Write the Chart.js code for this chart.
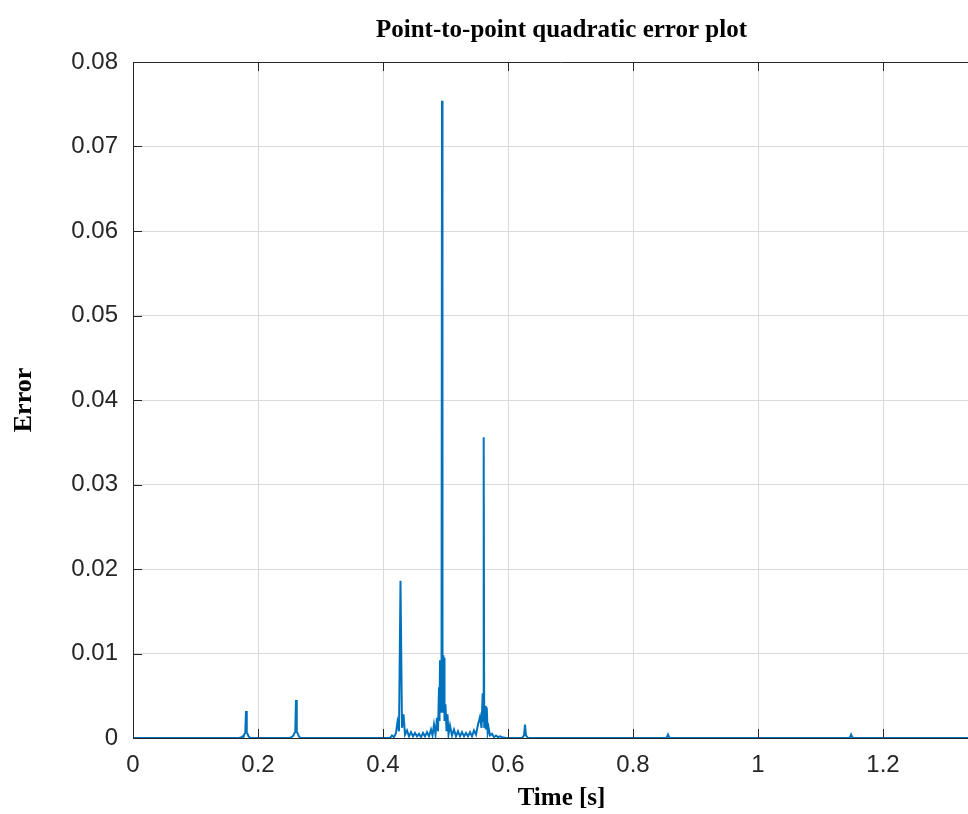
<!DOCTYPE html>
<html>
<head>
<meta charset="utf-8">
<title>Point-to-point quadratic error plot</title>
<script src="https://cdn.jsdelivr.net/npm/chart.js@4.4.1/dist/chart.umd.min.js"></script>
<style>
  html, body { margin: 0; padding: 0; background: #fff; overflow: hidden; width: 968px; height: 814px; }
  canvas { display: block; }
</style>
</head>
<body>
<!-- the axes run a bit past the right edge of the window, as in the original figure -->
<canvas id="errChart" width="990" height="814"></canvas>
<script>
// sample times [s]
const timeValues = [
  0, 0.170, 0.1736, 0.1752, 0.1768, 0.1784, 0.1796, 0.1808, 0.182, 0.1832, 0.1848, 0.1864, 0.188,
  0.250, 0.2536, 0.2552, 0.2568, 0.2584, 0.2596, 0.2608, 0.262, 0.2632, 0.2648, 0.2664, 0.268,
  0.4112, 0.4144, 0.4176, 0.4208, 0.4232, 0.4256, 0.428, 0.4304, 0.4328, 0.4352, 0.4384, 0.4416,
  0.4448, 0.448, 0.4512, 0.4544, 0.4576, 0.4608, 0.464, 0.4672, 0.4704, 0.4736, 0.4768, 0.4792,
  0.4816, 0.484, 0.4864, 0.488, 0.4896, 0.4904, 0.4912, 0.492, 0.4928, 0.4936, 0.4944, 0.4952,
  0.496, 0.4968, 0.4976, 0.4984, 0.5, 0.5016, 0.5032, 0.5048, 0.5072, 0.5104, 0.5136, 0.5168,
  0.52, 0.5232, 0.5264, 0.5296, 0.5328, 0.536, 0.5392, 0.5424, 0.5456, 0.5488, 0.552, 0.5552,
  0.5576, 0.5595, 0.5603, 0.5611, 0.5619, 0.5632, 0.5645, 0.566, 0.5675, 0.569, 0.5712, 0.5744,
  0.5776, 0.5808, 0.584, 0.5872, 0.5904, 0.5968,
  0.6224, 0.6256, 0.6272, 0.6288, 0.6320,
  0.852, 0.8544, 0.856, 0.8576, 0.860,
  1.145, 1.1474, 1.149, 1.1506, 1.153, 1.3712
];

// quadratic error at each sample
const errorValues = [
  0, 0, 0.0001, 0.0002, 0.0001, 0.0005, 0.0006, 0.0032, 0.0006, 0.0005, 0.0002, 0.0001, 0,
  0, 0.0001, 0.0002, 0.0003, 0.0006, 0.0007, 0.0045, 0.0007, 0.0006, 0.0003, 0.0001, 0,
  0, 0.0003, 0.0001, 0.0006, 0.0019, 0.0008, 0.0186, 0.0012, 0.0028, 0.0004, 0.0009, 0.0002,
  0.0007, 0.0002, 0.0006, 0.0002, 0.0005, 0.0001, 0.0006, 0.0002, 0.0007, 0.0002, 0.0010, 0.0003,
  0.0016, 0.0004, 0.0024, 0.0008, 0.0060, 0.0020, 0.0092, 0.0030, 0.0090, 0.0040, 0.0754, 0.0030,
  0.0098, 0.0035, 0.0095, 0.0020, 0.0040, 0.0008, 0.0028, 0.0004, 0.0015, 0.0003, 0.0010, 0.0002,
  0.0008, 0.0002, 0.0007, 0.0002, 0.0006, 0.0002, 0.0007, 0.0002, 0.0009, 0.0004, 0.0016, 0.0025,
  0.0012, 0.0053, 0.0020, 0.0356, 0.0012, 0.0038, 0.0010, 0.0036, 0.0006, 0.0012, 0.0003, 0.0005,
  0.0001, 0.0003, 0.0001, 0.0002, 0.0001, 0,
  0, 0.0003, 0.0016, 0.0003, 0,
  0, 0.0001, 0.0004, 0.0001, 0,
  0, 0.0001, 0.0004, 0.0001, 0, 0
];

const xTicks = [0, 0.2, 0.4, 0.6, 0.8, 1, 1.2];
const yTicks = [0, 0.01, 0.02, 0.03, 0.04, 0.05, 0.06, 0.07, 0.08];

const axisColor = '#262626';
const gridColor = '#dadada';
const lineBlue = '#0072BD';
const sansFont = "'Liberation Sans', Arial, sans-serif";
const serifFont = "'Liberation Serif', 'Times New Roman', serif";

// MATLAB-like box: top edge, inward tick marks, and the title
const matlabBox = {
  id: 'matlabBox',
  afterDraw(chart) {
    const { ctx, chartArea: a, scales: { x, y } } = chart;
    const tl = 9;
    ctx.save();
    ctx.strokeStyle = axisColor;
    ctx.lineWidth = 1;
    ctx.beginPath();
    ctx.moveTo(a.left, a.top + 0.5);
    ctx.lineTo(a.right, a.top + 0.5);
    xTicks.forEach(v => {
      const px = Math.round(x.getPixelForValue(v)) + 0.5;
      ctx.moveTo(px, a.bottom); ctx.lineTo(px, a.bottom - tl);
      ctx.moveTo(px, a.top); ctx.lineTo(px, a.top + tl);
    });
    yTicks.forEach(v => {
      const py = Math.round(y.getPixelForValue(v)) + 0.5;
      ctx.moveTo(a.left, py); ctx.lineTo(a.left + tl, py);
    });
    ctx.stroke();

    ctx.fillStyle = '#000';
    ctx.font = 'bold 25px ' + serifFont;
    ctx.textAlign = 'center';
    ctx.textBaseline = 'alphabetic';
    ctx.fillText('Point-to-point quadratic error plot', (a.left + a.right) / 2, 37);
    ctx.restore();
  }
};

new Chart(document.getElementById('errChart'), {
  type: 'line',
  data: {
    datasets: [{
      data: timeValues.map((t, i) => ({ x: t, y: errorValues[i] })),
      borderColor: lineBlue,
      borderWidth: 2,
      pointRadius: 0,
      tension: 0,
      fill: false
    }]
  },
  options: {
    responsive: false,
    animation: false,
    layout: { padding: { top: 62, right: 0, bottom: 0, left: 0 } },
    plugins: {
      legend: { display: false },
      tooltip: { enabled: false },
      title: { display: false }
    },
    scales: {
      x: {
        type: 'linear',
        min: 0,
        max: 1.3712,
        afterBuildTicks: s => { s.ticks = xTicks.map(v => ({ value: v })); },
        afterFit: s => { s.height = 76; },
        grid: { color: gridColor, drawTicks: false },
        border: { color: axisColor },
        ticks: {
          autoSkip: false,
          maxRotation: 0,
          padding: 13,
          color: axisColor,
          font: { family: sansFont, size: 24 },
          callback: v => String(+v.toFixed(2))
        },
        title: {
          display: true,
          text: 'Time [s]',
          color: '#000',
          padding: { top: 0, bottom: 0 },
          font: { family: serifFont, size: 25, weight: 'bold' }
        }
      },
      y: {
        min: 0,
        max: 0.08,
        afterBuildTicks: s => { s.ticks = yTicks.map(v => ({ value: v })); },
        afterFit: s => { s.width = 133; },
        grid: { color: gridColor, drawTicks: false },
        border: { color: axisColor },
        ticks: {
          padding: 15,
          color: axisColor,
          font: { family: sansFont, size: 24 },
          callback: v => String(+v.toFixed(2))
        },
        title: {
          display: true,
          text: 'Error',
          color: '#000',
          padding: { top: 9, bottom: 0 },
          font: { family: serifFont, size: 26, weight: 'bold' }
        }
      }
    }
  },
  plugins: [matlabBox]
});
</script>
</body>
</html>
